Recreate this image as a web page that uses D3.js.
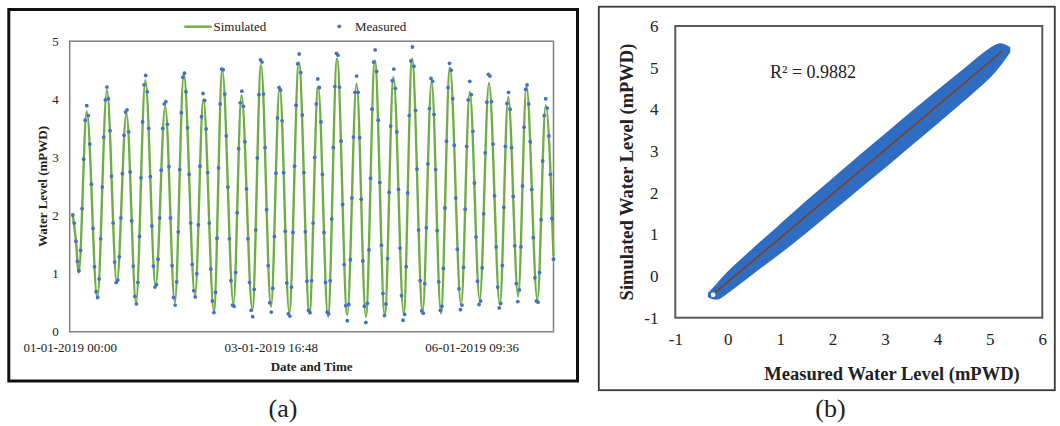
<!DOCTYPE html>
<html>
<head>
<meta charset="utf-8">
<script src="https://cdn.jsdelivr.net/npm/d3@7"></script>
<style>
  html, body { margin: 0; padding: 0; background: #fff; }
  svg { display: block; font-family: "Liberation Serif", "Times New Roman", serif; }
</style>
</head>
<body>
<svg id="fig" width="1060" height="426"></svg>
<script>
// ---------- (a) water level time series ----------
const axisStart = "2019-01-01T00:00:00Z";
const axisEnd = "2019-01-07T12:00:00Z";
const timeTickHours = [0, 64.8, 129.6];
const levelTicksA = [0, 1, 2, 3, 4, 5];

// Measured gauge readings, every 30 minutes from 01-01-2019 01:00
const measuredStart = "2019-01-01T01:00:00Z";
const measuredStepMinutes = 30;
const measuredLevel = [
  2.01, 1.87, 1.56, 1.21, 1.05, 1.40, 2.12, 2.97, 3.64, 3.89,
  3.72, 3.23, 2.54, 1.78, 1.12, 0.69, 0.59, 0.91, 1.60, 2.49,
  3.35, 3.99, 4.21, 4.01, 3.46, 2.68, 1.87, 1.20, 0.85, 0.89,
  1.29, 1.96, 2.72, 3.38, 3.78, 3.82, 3.44, 2.75, 1.91, 1.13,
  0.61, 0.48, 0.85, 1.64, 2.65, 3.61, 4.25, 4.41, 4.13, 3.50,
  2.67, 1.82, 1.13, 0.77, 0.81, 1.25, 1.96, 2.78, 3.50, 3.92,
  3.96, 3.57, 2.84, 1.96, 1.14, 0.59, 0.46, 0.86, 1.72, 2.79,
  3.77, 4.38, 4.45, 4.13, 3.51, 2.71, 1.87, 1.16, 0.71, 0.60,
  1.00, 1.84, 2.85, 3.70, 4.10, 3.98, 3.49, 2.74, 1.87, 1.08,
  0.53, 0.33, 0.68, 1.61, 2.82, 3.92, 4.52, 4.51, 4.09, 3.37,
  2.49, 1.60, 0.88, 0.46, 0.44, 1.02, 2.05, 3.15, 3.94, 4.14,
  3.88, 3.27, 2.46, 1.60, 0.85, 0.37, 0.26, 0.73, 1.75, 2.99,
  4.08, 4.68, 4.64, 4.09, 3.17, 2.10, 1.14, 0.50, 0.34, 0.75,
  1.64, 2.73, 3.68, 4.20, 4.16, 3.63, 2.74, 1.73, 0.84, 0.31,
  0.27, 0.77, 1.71, 2.85, 3.90, 4.61, 4.78, 4.46, 3.73, 2.74,
  1.72, 0.87, 0.37, 0.33, 0.88, 1.87, 3.00, 3.92, 4.35, 4.20,
  3.61, 2.71, 1.71, 0.85, 0.34, 0.31, 0.88, 1.94, 3.17, 4.22,
  4.79, 4.76, 4.21, 3.28, 2.19, 1.16, 0.45, 0.19, 0.47, 1.24,
  2.30, 3.35, 4.12, 4.40, 4.12, 3.34, 2.28, 1.22, 0.44, 0.16,
  0.49, 1.41, 2.64, 3.83, 4.64, 4.85, 4.48, 3.64, 2.57, 1.49,
  0.66, 0.28, 0.48, 1.26, 2.40, 3.54, 4.32, 4.52, 4.19, 3.44,
  2.45, 1.44, 0.62, 0.20, 0.30, 1.12, 2.39, 3.72, 4.66, 4.90,
  4.57, 3.81, 2.80, 1.75, 0.88, 0.36, 0.32, 0.83, 1.79, 2.89,
  3.84, 4.36, 4.31, 3.74, 2.79, 1.74, 0.86, 0.37, 0.44, 1.09,
  2.13, 3.28, 4.20, 4.62, 4.50, 4.01, 3.21, 2.30, 1.42, 0.74,
  0.38, 0.46, 1.11, 2.11, 3.19, 3.99, 4.31, 4.08, 3.45, 2.56,
  1.63, 0.87, 0.47, 0.53, 1.10, 2.03, 3.08, 3.95, 4.43, 4.40,
  3.96, 3.23, 2.34, 1.46, 0.77, 0.41, 0.49, 1.14, 2.14, 3.19,
  3.93, 4.12, 3.83, 3.17, 2.33, 1.48, 0.83, 0.52, 0.72, 1.46,
  2.51, 3.52, 4.17, 4.25, 3.92, 3.27, 2.45, 1.62, 0.93, 0.53,
  0.51, 1.02, 1.93, 2.94, 3.72, 4.01, 3.85, 3.37, 2.71, 1.95,
  1.25
];

// Simulated level at its turning points (hours after 01-01-2019 00:00)
const simulatedHours = [
  1.0, 2.0, 2.9, 5.5, 8.9, 12.0, 15.2, 18.3, 21.4, 24.4, 27.7, 30.8, 33.9,
  36.8, 40.4, 43.1, 46.5, 49.2, 52.8, 55.4, 58.9, 61.7, 64.9, 67.7, 70.8,
  73.9, 77.3, 80.1, 83.3, 86.2, 89.5, 92.5, 95.5, 98.4, 101.6, 104.4,
  107.7, 110.4, 113.8, 116.7, 119.7, 122.6, 126.2, 129.0, 132.2, 135.2,
  138.7, 141.4, 144.6, 147.3, 150.8, 153.5, 156.0
];
const simulatedLevel = [
  2.00, 1.57, 1.02, 3.79, 0.58, 4.16, 0.84, 3.76, 0.50, 4.33, 0.78, 3.88, 0.50,
  4.44, 0.61, 4.00, 0.35, 4.50, 0.48, 4.07, 0.38, 4.59, 0.43, 4.22, 0.33,
  4.64, 0.31, 4.22, 0.26, 4.70, 0.29, 4.27, 0.26, 4.67, 0.29, 4.38,
  0.31, 4.70, 0.35, 4.30, 0.32, 4.55, 0.46, 4.13, 0.55, 4.28,
  0.46, 4.04, 0.61, 4.22, 0.55, 3.90, 1.30
];

// ---------- (b) simulated vs measured scatter ----------
const axisTicksB = [-1, 0, 1, 2, 3, 4, 5, 6];
// Outline of the dense point cloud: measured level with lowest/highest simulated level
const cloudMeasured = [-0.35, -0.2, 0.0, 0.5, 1.0, 1.5, 2.0, 2.5, 3.0, 3.5, 4.0, 4.5, 5.0, 5.2, 5.36];
const cloudUpper    = [-0.42, -0.22, 0.06, 0.64, 1.20, 1.76, 2.30, 2.84, 3.37, 3.90, 4.42, 4.93, 5.43, 5.55, 5.47];
const cloudLower    = [-0.49, -0.53, -0.37, 0.11, 0.58, 1.08, 1.60, 2.12, 2.64, 3.17, 3.70, 4.24, 4.80, 5.10, 5.38];
const trendMeasured = [-0.27, 5.24];
const trendSimulated = [-0.43, 5.40];
const lowestMeasured = [-0.28];
const lowestSimulated = [-0.45];
const r2Label = "R\u00B2 = 0.9882";

const svg = d3.select("#fig");
const HOUR = 3600e3;
const FONT = '"Liberation Serif", "Times New Roman", serif';

// ================= panel (a) =================
const t0 = new Date(axisStart);
const xA = d3.scaleUtc().domain([t0, new Date(axisEnd)]).range([69.7, 553.5]);
const yA = d3.scaleLinear().domain([0, 5]).range([331.8, 41.2]);

svg.append("rect")
  .attr("x", 8.8).attr("y", 9.5).attr("width", 568.7).attr("height", 371.5)
  .attr("fill", "none").attr("stroke", "#111").attr("stroke-width", 3);

svg.append("rect")
  .attr("x", 69.7).attr("y", 41.2).attr("width", 553.5 - 69.7).attr("height", 331.8 - 41.2)
  .attr("fill", "none").attr("stroke", "#808080").attr("stroke-width", 1.5);

const yAxisA = svg.append("g").attr("transform", "translate(69.7,0)")
  .call(d3.axisLeft(yA).tickValues(levelTicksA).tickFormat(d3.format("d")).tickSize(0).tickPadding(11));
const xAxisA = svg.append("g").attr("transform", "translate(0,331.8)")
  .call(d3.axisBottom(xA)
    .tickValues(timeTickHours.map(h => new Date(+t0 + h * HOUR)))
    .tickFormat(d3.utcFormat("%d-%m-%Y %H:%M"))
    .tickSize(0).tickPadding(11));
[yAxisA, xAxisA].forEach(g => {
  g.select(".domain").remove();
  g.selectAll("text").attr("font-family", FONT).attr("font-size", 13).attr("fill", "#222");
});

const measuredT0 = new Date(measuredStart);
const measured = measuredLevel.map((v, i) => ({ t: new Date(+measuredT0 + i * measuredStepMinutes * 60e3), v }));
const simulated = simulatedHours.map((h, i) => ({ t: new Date(+t0 + h * HOUR), v: simulatedLevel[i] }));

svg.append("path").datum(simulated)
  .attr("d", d3.line().x(d => xA(d.t)).y(d => yA(d.v)).curve(d3.curveMonotoneX))
  .attr("fill", "none").attr("stroke", "#70AD47").attr("stroke-width", 2.4)
  .attr("stroke-linejoin", "round");

svg.append("g").selectAll("circle").data(measured).join("circle")
  .attr("cx", d => xA(d.t)).attr("cy", d => yA(d.v)).attr("r", 1.9)
  .attr("fill", "#4472C4");

// legend
svg.append("line").attr("x1", 184.3).attr("x2", 211.7).attr("y1", 26.7).attr("y2", 26.7)
  .attr("stroke", "#70AD47").attr("stroke-width", 2.4);
svg.append("text").attr("x", 213.5).attr("y", 31).attr("font-size", 13).attr("fill", "#222").text("Simulated");
svg.append("circle").attr("cx", 339.3).attr("cy", 26.3).attr("r", 1.9).attr("fill", "#4472C4");
svg.append("text").attr("x", 355).attr("y", 31).attr("font-size", 13).attr("fill", "#222").text("Measured");

// axis titles
svg.append("text").attr("x", 311.6).attr("y", 371).attr("text-anchor", "middle")
  .attr("font-size", 13).attr("font-weight", "bold").attr("fill", "#222").text("Date and Time");
svg.append("text").attr("transform", "translate(46.5,186.5) rotate(-90)").attr("text-anchor", "middle")
  .attr("font-size", 13).attr("font-weight", "bold").attr("fill", "#222").text("Water Level (mPWD)");

svg.append("text").attr("x", 283).attr("y", 417).attr("text-anchor", "middle")
  .attr("font-size", 26).attr("fill", "#222").text("(a)");

// ================= panel (b) =================
const xB = d3.scaleLinear().domain([-1, 6]).range([675.3, 1042.3]);
const yB = d3.scaleLinear().domain([-1, 6]).range([317.7, 26]);

svg.append("rect")
  .attr("x", 598.8).attr("y", 6.7).attr("width", 456).attr("height", 383.5)
  .attr("fill", "none").attr("stroke", "#3a3a3a").attr("stroke-width", 1.8);

svg.append("rect")
  .attr("x", 675.3).attr("y", 26).attr("width", 1042.3 - 675.3).attr("height", 317.7 - 26)
  .attr("fill", "none").attr("stroke", "#595959").attr("stroke-width", 2);

const xAxisB = svg.append("g").attr("transform", "translate(0,317.7)")
  .call(d3.axisBottom(xB).tickValues(axisTicksB).tickFormat(d3.format("d")).tickSize(0).tickPadding(15.3));
const yAxisB = svg.append("g").attr("transform", "translate(675.3,0)")
  .call(d3.axisLeft(yB).tickValues(axisTicksB).tickFormat(d3.format("d")).tickSize(0).tickPadding(16.8));
[xAxisB, yAxisB].forEach(g => {
  g.select(".domain").remove();
  g.selectAll("text").attr("font-family", FONT).attr("font-size", 17).attr("fill", "#222")
    .text(d => (d < 0 ? "-" + Math.abs(d) : String(d)));
});

const cloud = cloudMeasured.map((m, i) => ({ m, hi: cloudUpper[i], lo: cloudLower[i] }));
svg.append("path").datum(cloud)
  .attr("d", d3.area().x(d => xB(d.m)).y0(d => yB(d.lo)).y1(d => yB(d.hi)).curve(d3.curveCatmullRom))
  .attr("fill", "#2F6DC2").attr("stroke", "#2F6DC2").attr("stroke-width", 3)
  .attr("stroke-linejoin", "round");

svg.append("path").datum(trendMeasured.map((m, i) => ({ m, s: trendSimulated[i] })))
  .attr("d", d3.line().x(d => xB(d.m)).y(d => yB(d.s)))
  .attr("stroke", "#8B3A12").attr("stroke-width", 1.5).attr("fill", "none");

svg.append("g").selectAll("circle").data(lowestMeasured.map((m, i) => ({ m, s: lowestSimulated[i] })))
  .join("circle")
  .attr("cx", d => xB(d.m)).attr("cy", d => yB(d.s)).attr("r", 3)
  .attr("fill", "#fff").attr("stroke", "#2F6DC2").attr("stroke-width", 1.2);

svg.append("text").attr("x", 770).attr("y", 78).attr("font-size", 18).attr("fill", "#222").text(r2Label);

svg.append("text").attr("x", 892).attr("y", 380).attr("text-anchor", "middle")
  .attr("font-size", 18.5).attr("font-weight", "bold").attr("fill", "#222").text("Measured Water Level (mPWD)");
svg.append("text").attr("transform", "translate(633,172) rotate(-90)").attr("text-anchor", "middle")
  .attr("font-size", 18.5).attr("font-weight", "bold").attr("fill", "#222").text("Simulated Water Level (mPWD)");

svg.append("text").attr("x", 830.5).attr("y", 417).attr("text-anchor", "middle")
  .attr("font-size", 26).attr("fill", "#222").text("(b)");
</script>
</body>
</html>
